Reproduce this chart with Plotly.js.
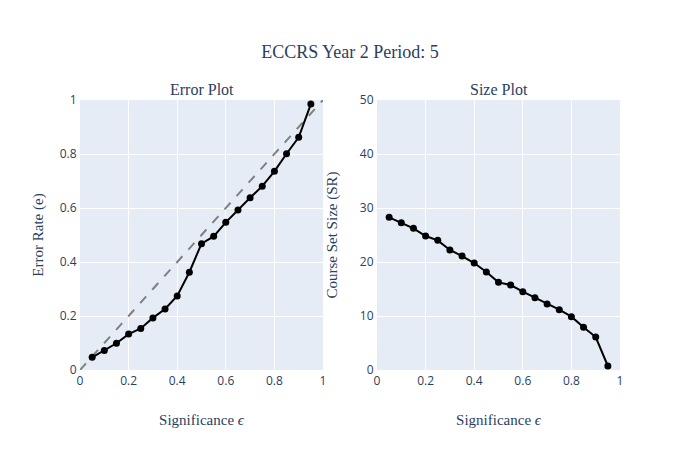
<!DOCTYPE html>
<html>
<head>
<meta charset="utf-8">
<script src="https://cdn.plot.ly/plotly-3.0.1.min.js"></script>
<style>html,body{margin:0;padding:0;}</style>
</head>
<body>
<div id="chart" style="width:700px;height:450px;"></div>
<script>
const significance = [0.05,0.10,0.15,0.20,0.25,0.30,0.35,0.40,0.45,0.50,0.55,0.60,0.65,0.70,0.75,0.80,0.85,0.90,0.95];
const errorRate = [0.047,0.072,0.099,0.133,0.154,0.193,0.226,0.274,0.362,0.468,0.495,0.547,0.593,0.638,0.681,0.736,0.801,0.862,0.985];
const setSize = [28.27,27.28,26.23,24.81,24.01,22.22,21.11,19.81,18.15,16.23,15.74,14.51,13.40,12.22,11.17,9.88,7.90,6.11,0.74];
const diagonal = [0,1];
const titleText = 'ECCRS Year 2 Period: 5';
const subplotTitles = ['Error Plot','Size Plot'];
const xTitle = 'Significance <i>ϵ</i>';
const yTitles = ['Error Rate (e)','Course Set Size (SR)'];

const serif = {family:'"Liberation Serif", "Times New Roman", serif', color:'#2a3f5f'};

const traces = [
  {x: diagonal, y: diagonal, mode:'lines', line:{color:'grey', dash:'dash', width:2}, xaxis:'x', yaxis:'y', showlegend:false, hoverinfo:'skip'},
  {x: significance, y: errorRate, mode:'lines+markers', line:{color:'black', width:2}, marker:{color:'black', size:7}, xaxis:'x', yaxis:'y', showlegend:false},
  {x: significance, y: setSize, mode:'lines+markers', line:{color:'black', width:2}, marker:{color:'black', size:7}, xaxis:'x2', yaxis:'y2', showlegend:false}
];

const axBase = {gridcolor:'white', zeroline:false, linecolor:'white', tickfont:{family:'"Open Sans", verdana, arial, sans-serif', size:12, color:'#2a3f5f'}};

const layout = {
  width:700, height:450,
  paper_bgcolor:'white', plot_bgcolor:'#E5ECF6',
  margin:{l:80, r:80, t:100, b:80},
  title:{text:titleText, x:0.5, xanchor:'center', y:0.9, font:Object.assign({size:18}, serif)},
  xaxis: Object.assign({}, axBase, {domain:[0,0.45], range:[0,1], dtick:0.2, anchor:'y', title:{text:xTitle, font:Object.assign({size:15}, serif)}}),
  yaxis: Object.assign({}, axBase, {domain:[0,1], range:[0,1], dtick:0.2, anchor:'x', title:{text:yTitles[0], standoff:12, font:Object.assign({size:15}, serif)}}),
  xaxis2: Object.assign({}, axBase, {domain:[0.55,1], range:[0,1], dtick:0.2, anchor:'y2', title:{text:xTitle, font:Object.assign({size:15}, serif)}}),
  yaxis2: Object.assign({}, axBase, {domain:[0,1], range:[0,50], dtick:10, anchor:'x2', title:{text:yTitles[1], font:Object.assign({size:15}, serif)}}),
  annotations: [
    {text:subplotTitles[0], x:0.225, y:1, xref:'paper', yref:'paper', xanchor:'center', yanchor:'bottom', showarrow:false, font:Object.assign({size:16}, serif)},
    {text:subplotTitles[1], x:0.775, y:1, xref:'paper', yref:'paper', xanchor:'center', yanchor:'bottom', showarrow:false, font:Object.assign({size:16}, serif)}
  ]
};

Plotly.newPlot('chart', traces, layout, {displayModeBar:false});
</script>
</body>
</html>
